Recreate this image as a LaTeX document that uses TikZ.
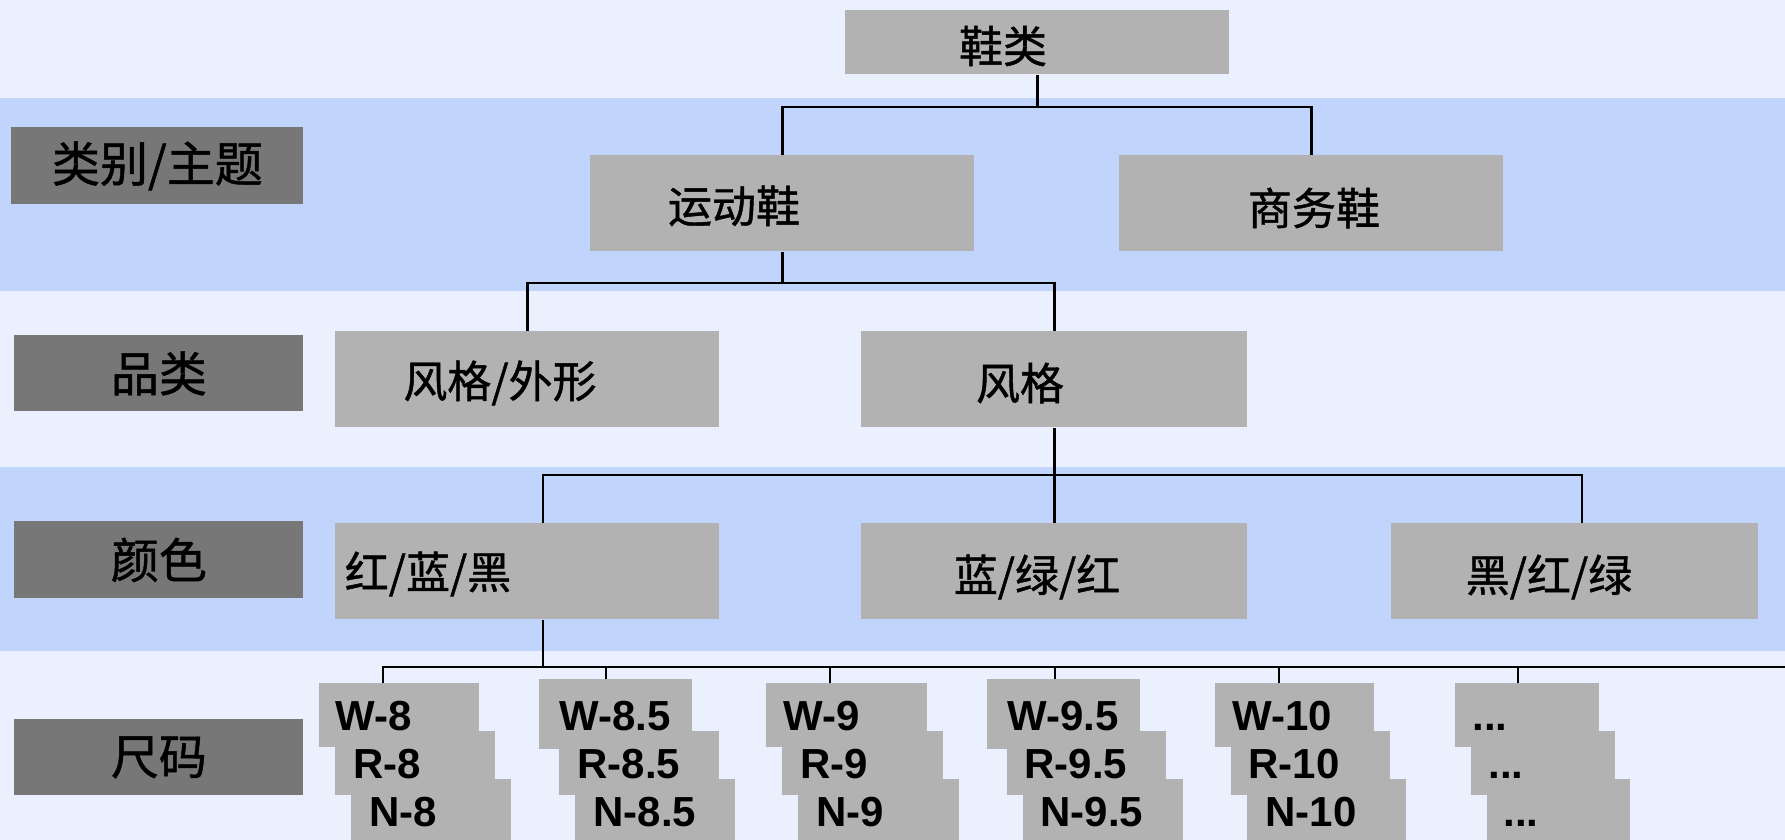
\documentclass[tikz,border=0pt]{standalone}
\usepackage{fontspec}
\setmainfont{Liberation Sans}
\newfontfamily\cjk[FakeBold=1]{Noto Sans CJK SC}
\definecolor{bandlight}{HTML}{EAF0FE}
\definecolor{banddark}{HTML}{C0D4FC}
\definecolor{boxgray}{HTML}{B2B2B2}
\definecolor{labgray}{HTML}{777777}
\tikzset{
  wh/.style 2 args={minimum width=#1*0.5pt, minimum height=#2*0.5pt},
  box/.style={fill=boxgray, inner sep=0pt, anchor=north west},
  lab/.style={fill=labgray, inner sep=0pt, anchor=north west, font=\cjk\fontsize{24pt}{26pt}\selectfont},
  txt/.style={inner sep=0pt, font=\cjk\fontsize{22pt}{24pt}\selectfont},
  sbox/.style={box, wh={160}{64}},
  stxt/.style={inner sep=0pt, anchor=base west, font=\bfseries\fontsize{21pt}{23pt}\selectfont},
  conn/.style={draw=black, line width=1.2pt}
}
\begin{document}
\begin{tikzpicture}[x=0.5pt,y=-0.5pt]
\useasboundingbox (0,0) rectangle (1785,840);
% bands
\fill[bandlight] (0,0) rectangle (1785,840);
\fill[banddark] (0,98) rectangle (1785,291);
\fill[banddark] (0,467) rectangle (1785,651);
% left labels
\node[lab, wh={292}{77}] (l1) at (11,127) {类别/主题};
\node[lab, wh={289}{76}] (l2) at (14,335) {品类};
\node[lab, wh={289}{77}] (l3) at (14,521) {颜色};
\node[lab, wh={289}{76}] (l4) at (14,719) {尺码};
% tree boxes
\node[box, wh={384}{64}] (shoe) at (845,10) {};
\node[txt] (tshoe) at (1003,46) {鞋类};
\node[box, wh={384}{96}] (sport) at (590,155) {};
\node[txt] (tsport) at (734,206) {运动鞋};
\node[box, wh={384}{96}] (biz) at (1119,155) {};
\node[txt] (tbiz) at (1314,208) {商务鞋};
\node[box, wh={384}{96}] (styshape) at (335,331) {};
\node[txt] (tstyshape) at (500,383) {风格/外形};
\node[box, wh={386}{96}] (style) at (861,331) {};
\node[txt] (tstyle) at (1020,383) {风格};
\node[box, wh={384}{96}] (rbk) at (335,523) {};
\node[txt] (trbk) at (428,574) {红/蓝/黑};
\node[box, wh={386}{96}] (bgr) at (861,523) {};
\node[txt] (tbgr) at (1037,577) {蓝/绿/红};
\node[box, wh={367}{96}] (brg) at (1391,523) {};
\node[txt] (tbrg) at (1549,577) {黑/红/绿};
% size boxes
\node[box, wh={160}{64}] (w1) at (319,683) {};
\node[sbox] (r1) at (335,731) {};
\node[sbox] (n1) at (351,779) {};
\node[stxt] (tw1) at (335,730) {W-8};
\node[stxt] (tr1) at (353,778) {R-8};
\node[stxt] (tn1) at (369,826) {N-8};
\node[box, wh={153}{70}] (w2) at (539,679) {};
\node[sbox] (r2) at (559,731) {};
\node[sbox] (n2) at (575,779) {};
\node[stxt] (tw2) at (559,730) {W-8.5};
\node[stxt] (tr2) at (577,778) {R-8.5};
\node[stxt] (tn2) at (593,826) {N-8.5};
\node[box, wh={161}{64}] (w3) at (766,683) {};
\node[box, wh={161}{64}] (r3) at (782,731) {};
\node[box, wh={161}{64}] (n3) at (798,779) {};
\node[stxt] (tw3) at (783,730) {W-9};
\node[stxt] (tr3) at (800,778) {R-9};
\node[stxt] (tn3) at (816,826) {N-9};
\node[box, wh={153}{70}] (w4) at (987,679) {};
\node[box, wh={159}{64}] (r4) at (1007,731) {};
\node[sbox] (n4) at (1023,779) {};
\node[stxt] (tw4) at (1007,730) {W-9.5};
\node[stxt] (tr4) at (1024,778) {R-9.5};
\node[stxt] (tn4) at (1040,826) {N-9.5};
\node[box, wh={159}{64}] (w5) at (1215,683) {};
\node[box, wh={159}{64}] (r5) at (1231,731) {};
\node[box, wh={159}{64}] (n5) at (1247,779) {};
\node[stxt] (tw5) at (1232,730) {W-10};
\node[stxt] (tr5) at (1248,778) {R-10};
\node[stxt] (tn5) at (1265,826) {N-10};
\node[box, wh={144}{64}] (w6) at (1455,683) {};
\node[box, wh={144}{64}] (r6) at (1471,731) {};
\node[box, wh={143}{64}] (n6) at (1487,779) {};
\node[stxt] (tw6) at (1472,730) {...};
\node[stxt] (tr6) at (1488,778) {...};
\node[stxt] (tn6) at (1503,826) {...};
% bus coordinates
\coordinate (bus1) at (0,107);
\coordinate (bus2) at (0,283);
\coordinate (bus3) at (0,475);
\coordinate (bus4) at (0,667);
\coordinate (xr) at (543,0);
\coordinate (xk) at (1582,0);
\coordinate (busend) at (1785,667);
\coordinate (x1) at (383,0);
\coordinate (x2) at (606,0);
\coordinate (x3) at (830,0);
\coordinate (x4) at (1055,0);
\coordinate (x5) at (1279,0);
\coordinate (x6) at (1518,0);
% connectors
\draw[conn] (shoe.south) -- (shoe.south |- bus1);
\draw[conn] (sport.north) -- (sport.north |- bus1) -- (biz.north |- bus1) -- (biz.north);
\draw[conn] (sport.south) -- (sport.south |- bus2);
\draw[conn] (styshape.north) -- (styshape.north |- bus2) -- (style.north |- bus2) -- (style.north);
\draw[conn] (style.south) -- (style.south |- bus3);
\draw[conn] (rbk.north -| xr) -- (xr |- bus3) -- (xk |- bus3) -- (brg.north -| xk);
\draw[conn] (bgr.north) -- (bgr.north |- bus3);
\draw[conn] (rbk.south -| xr) -- (xr |- bus4);
\draw[conn] (w1.north -| x1) -- (x1 |- bus4) -- (busend);
\draw[conn] (w2.north -| x2) -- (x2 |- bus4);
\draw[conn] (w3.north -| x3) -- (x3 |- bus4);
\draw[conn] (w4.north -| x4) -- (x4 |- bus4);
\draw[conn] (w5.north -| x5) -- (x5 |- bus4);
\draw[conn] (w6.north -| x6) -- (x6 |- bus4);
\end{tikzpicture}
\end{document}
